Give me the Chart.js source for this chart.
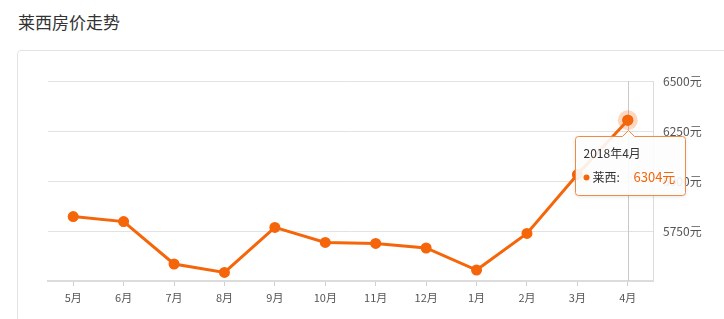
<!DOCTYPE html>
<html>
<head>
<meta charset="utf-8">
<script src="https://cdn.jsdelivr.net/npm/chart.js@4"></script>
<style>
    body { margin: 0; background: #fff; font-family: "Noto Sans CJK SC", "Noto Sans", sans-serif; }
    .page { position: relative; width: 724px; height: 319px; overflow: hidden; }
    .title { position: absolute; left: 18px; top: 9px; font-size: 17px; color: #333; }
    .card { position: absolute; left: 17px; top: 50px; width: 760px; height: 320px;
            border: 1px solid #e3e3e3; border-radius: 4px; box-sizing: border-box; }
    #chart { position: absolute; left: 0; top: 0; }
</style>
</head>
<body>
<div class="page">
    <div class="title">莱西房价走势</div>
    <div class="card"></div>
    <canvas id="chart" width="724" height="319"></canvas>
</div>
<script>
// months shown on the x axis
const months = ['5月', '6月', '7月', '8月', '9月', '10月', '11月', '12月', '1月', '2月', '3月', '4月'];
// average price per month (元/㎡)
const prices = [5822, 5797, 5585, 5543, 5768, 5693, 5688, 5665, 5555, 5738, 6032, 6304];
// y axis ticks
const priceTicks = [5500, 5750, 6000, 6250, 6500];
const seriesName = '莱西';
const tooltipTitle = '2018年4月';
const activeIndex = 11;

const lineColor = '#f5650a';
const cjkFont = '"Noto Sans CJK SC", "Noto Sans", sans-serif';

// draws the hovered state: crosshair, halo and the tooltip box
const hoverPlugin = {
    id: 'hoverPlugin',
    beforeDatasetsDraw(chart) {
        const pt = chart.getDatasetMeta(0).data[activeIndex];
        const area = chart.chartArea;
        const ctx = chart.ctx;
        ctx.save();
        ctx.strokeStyle = '#c8c8c8';
        ctx.lineWidth = 1;
        ctx.beginPath();
        ctx.moveTo(Math.round(pt.x) + 0.5, area.top);
        ctx.lineTo(Math.round(pt.x) + 0.5, area.bottom);
        ctx.stroke();
        ctx.restore();
    },
    afterDatasetsDraw(chart) {
        const pt = chart.getDatasetMeta(0).data[activeIndex];
        const ctx = chart.ctx;
        ctx.save();
        ctx.fillStyle = 'rgba(245, 101, 10, 0.25)';
        ctx.beginPath();
        ctx.arc(pt.x, pt.y, 10, 0, Math.PI * 2);
        ctx.fill();
        ctx.fillStyle = lineColor;
        ctx.beginPath();
        ctx.arc(pt.x, pt.y, 5.5, 0, Math.PI * 2);
        ctx.fill();
        ctx.restore();
    },
    afterDraw(chart) {
        const pt = chart.getDatasetMeta(0).data[activeIndex];
        const ctx = chart.ctx;
        const left = Math.round(pt.x) - 53 + 0.5;
        const top = Math.round(pt.y) + 16 + 0.5;
        const w = 110, h = 59, r = 3;
        const cx = Math.round(pt.x) + 0.5;

        ctx.save();
        ctx.beginPath();
        ctx.moveTo(left + r, top);
        ctx.lineTo(cx - 6, top);
        ctx.lineTo(cx, top - 6);
        ctx.lineTo(cx + 6, top);
        ctx.lineTo(left + w - r, top);
        ctx.arcTo(left + w, top, left + w, top + r, r);
        ctx.lineTo(left + w, top + h - r);
        ctx.arcTo(left + w, top + h, left + w - r, top + h, r);
        ctx.lineTo(left + r, top + h);
        ctx.arcTo(left, top + h, left, top + h - r, r);
        ctx.lineTo(left, top + r);
        ctx.arcTo(left, top, left + r, top, r);
        ctx.closePath();
        ctx.shadowColor = 'rgba(0, 0, 0, 0.12)';
        ctx.shadowBlur = 4;
        ctx.shadowOffsetY = 1;
        ctx.fillStyle = 'rgba(255, 255, 255, 0.9)';
        ctx.fill();
        ctx.shadowColor = 'transparent';
        ctx.strokeStyle = '#f08a45';
        ctx.lineWidth = 1;
        ctx.stroke();

        ctx.textBaseline = 'middle';
        ctx.font = '12px ' + cjkFont;
        ctx.fillStyle = '#333';
        ctx.fillText(tooltipTitle, left + 8, top + 17);

        ctx.fillStyle = lineColor;
        ctx.beginPath();
        ctx.arc(left + 11, top + 41, 3, 0, Math.PI * 2);
        ctx.fill();

        ctx.fillStyle = '#333';
        ctx.fillText(seriesName + ':', left + 17, top + 41);
        ctx.font = '13px ' + cjkFont;
        ctx.fillStyle = lineColor;
        ctx.fillText(prices[activeIndex] + '元', left + 58, top + 41);
        ctx.restore();
    }
};

new Chart(document.getElementById('chart'), {
    type: 'line',
    data: {
        labels: months,
        datasets: [{
            label: seriesName,
            data: prices,
            borderColor: lineColor,
            backgroundColor: lineColor,
            borderWidth: 3,
            pointRadius: 4,
            pointHoverRadius: 4,
            tension: 0,
            fill: false
        }]
    },
    options: {
        responsive: false,
        animation: false,
        events: [],
        layout: { padding: { left: 48, top: 81, right: 0, bottom: 0 } },
        plugins: {
            legend: { display: false },
            tooltip: { enabled: false }
        },
        scales: {
            x: {
                type: 'category',
                offset: true,
                afterFit(scale) { scale.height = 38; },
                grid: {
                    offset: false,
                    drawOnChartArea: false,
                    tickLength: 5,
                    color: '#cfcfcf'
                },
                border: { display: true, color: '#dcdcdc', width: 2 },
                ticks: {
                    padding: 5,
                    color: '#555',
                    font: { family: cjkFont, size: 11 },
                    maxRotation: 0,
                    autoSkip: false
                }
            },
            y: {
                position: 'right',
                min: priceTicks[0],
                max: priceTicks[priceTicks.length - 1],
                afterFit(scale) { scale.width = 71; },
                afterBuildTicks(scale) {
                    scale.ticks = priceTicks.map(v => ({ value: v }));
                },
                grid: { color: '#e2e2e2', drawTicks: false },
                border: { display: true, color: '#dcdcdc' },
                ticks: {
                    padding: 10,
                    color: '#555',
                    font: { family: cjkFont, size: 12 },
                    callback: v => v === priceTicks[0] ? '' : v + '元'
                }
            }
        }
    },
    plugins: [hoverPlugin]
});
</script>
</body>
</html>
